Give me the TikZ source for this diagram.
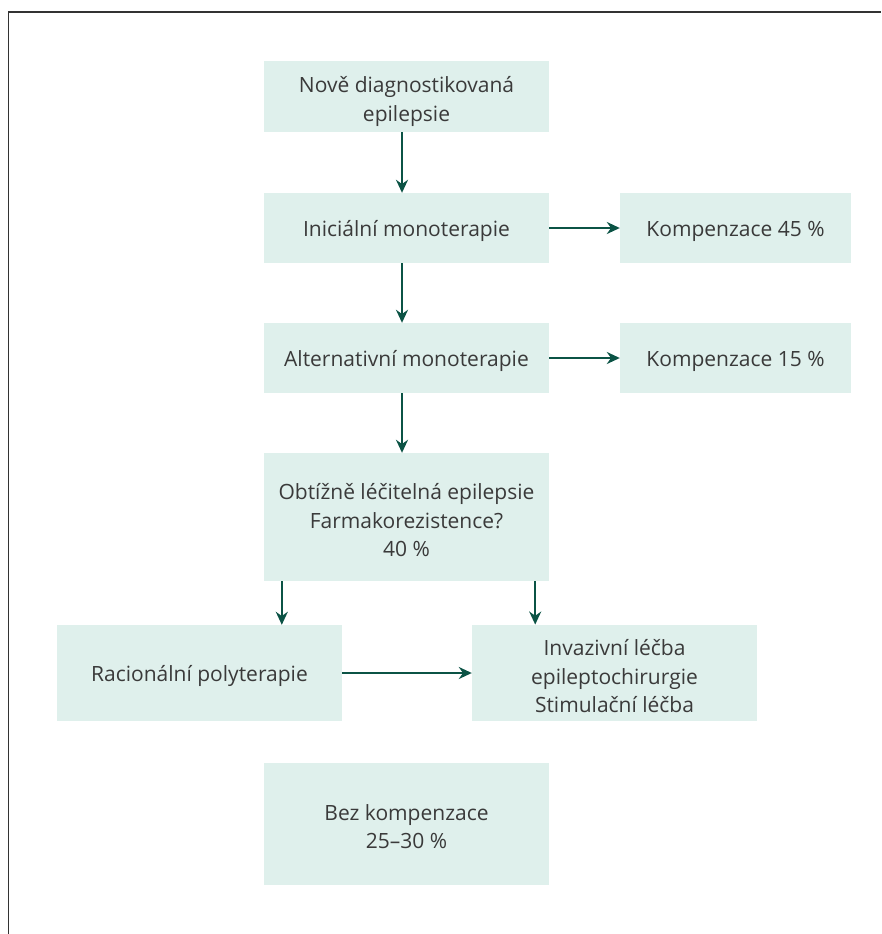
\documentclass[tikz,border=0pt]{standalone}
\usepackage{fontspec}
\setmainfont{Open Sans}
\usetikzlibrary{arrows.meta}
\definecolor{boxfill}{HTML}{DFF0EC}
\definecolor{arrcol}{HTML}{0B5345}
\definecolor{txtcol}{HTML}{3A3A3A}
\definecolor{framecol}{HTML}{333333}
\begin{document}
\begin{tikzpicture}[x=1pt,y=-1pt,
  box/.style={rectangle, fill=boxfill, draw=none, inner sep=0pt, align=center,
    text=txtcol, font=\fontsize{21}{28.7}\selectfont, text depth=8.5pt},
  one/.style={text height=25.5pt},
  two/.style={text height=58pt},
  three/.style={text height=88pt},
  arr/.style={draw=arrcol, line width=2.4pt, -{Stealth[length=13pt,width=12pt]}}]
\useasboundingbox (0,0) rectangle (881,934);
\draw[framecol, line width=1.3pt] (8.5,934) -- (8.5,12) -- (881,12);
\node[box, two, minimum width=285pt, minimum height=71pt] (b1) at (406.5,96.5) {Nově diagnostikovaná\\epilepsie};
\node[box, one, minimum width=285pt, minimum height=70pt] (b2) at (406.5,228) {Iniciální monoterapie};
\node[box, one, minimum width=231pt, minimum height=70pt] (k45) at (735.5,228) {Kompenzace 45 \%};
\node[box, one, minimum width=285pt, minimum height=70pt] (b3) at (406.5,358) {Alternativní monoterapie};
\node[box, one, minimum width=231pt, minimum height=70pt] (k15) at (735.5,358) {Kompenzace 15 \%};
\node[box, three, minimum width=285pt, minimum height=128pt] (b4) at (406.5,517) {Obtížně léčitelná epilepsie\\Farmakorezistence?\\40 \%};
\node[box, one, minimum width=285pt, minimum height=96pt] (rac) at (199.5,673) {Racionální polyterapie};
\node[box, three, minimum width=285pt, minimum height=96pt] (inv) at (614.5,673) {Invazivní léčba\\epileptochirurgie\\Stimulační léčba};
\node[box, two, minimum width=285pt, minimum height=122pt] (bez) at (406.5,824) {Bez kompenzace\\25–30 \%};
\draw[arr] ([xshift=-4.5pt]b1.south) -- ([xshift=-4.5pt]b2.north);
\draw[arr] ([xshift=-4.5pt]b2.south) -- ([xshift=-4.5pt]b3.north);
\draw[arr] ([xshift=-4.5pt]b3.south) -- ([xshift=-4.5pt]b4.north);
\draw[arr] (b2.east) -- (k45.west);
\draw[arr] (b3.east) -- (k15.west);
\draw[arr] ([xshift=18pt]b4.south west) -- ([xshift=18pt]b4.south west |- rac.north);
\draw[arr] ([xshift=-14pt]b4.south east) -- ([xshift=-14pt]b4.south east |- inv.north);
\draw[arr] (rac.east) -- (inv.west);
\end{tikzpicture}
\end{document}
